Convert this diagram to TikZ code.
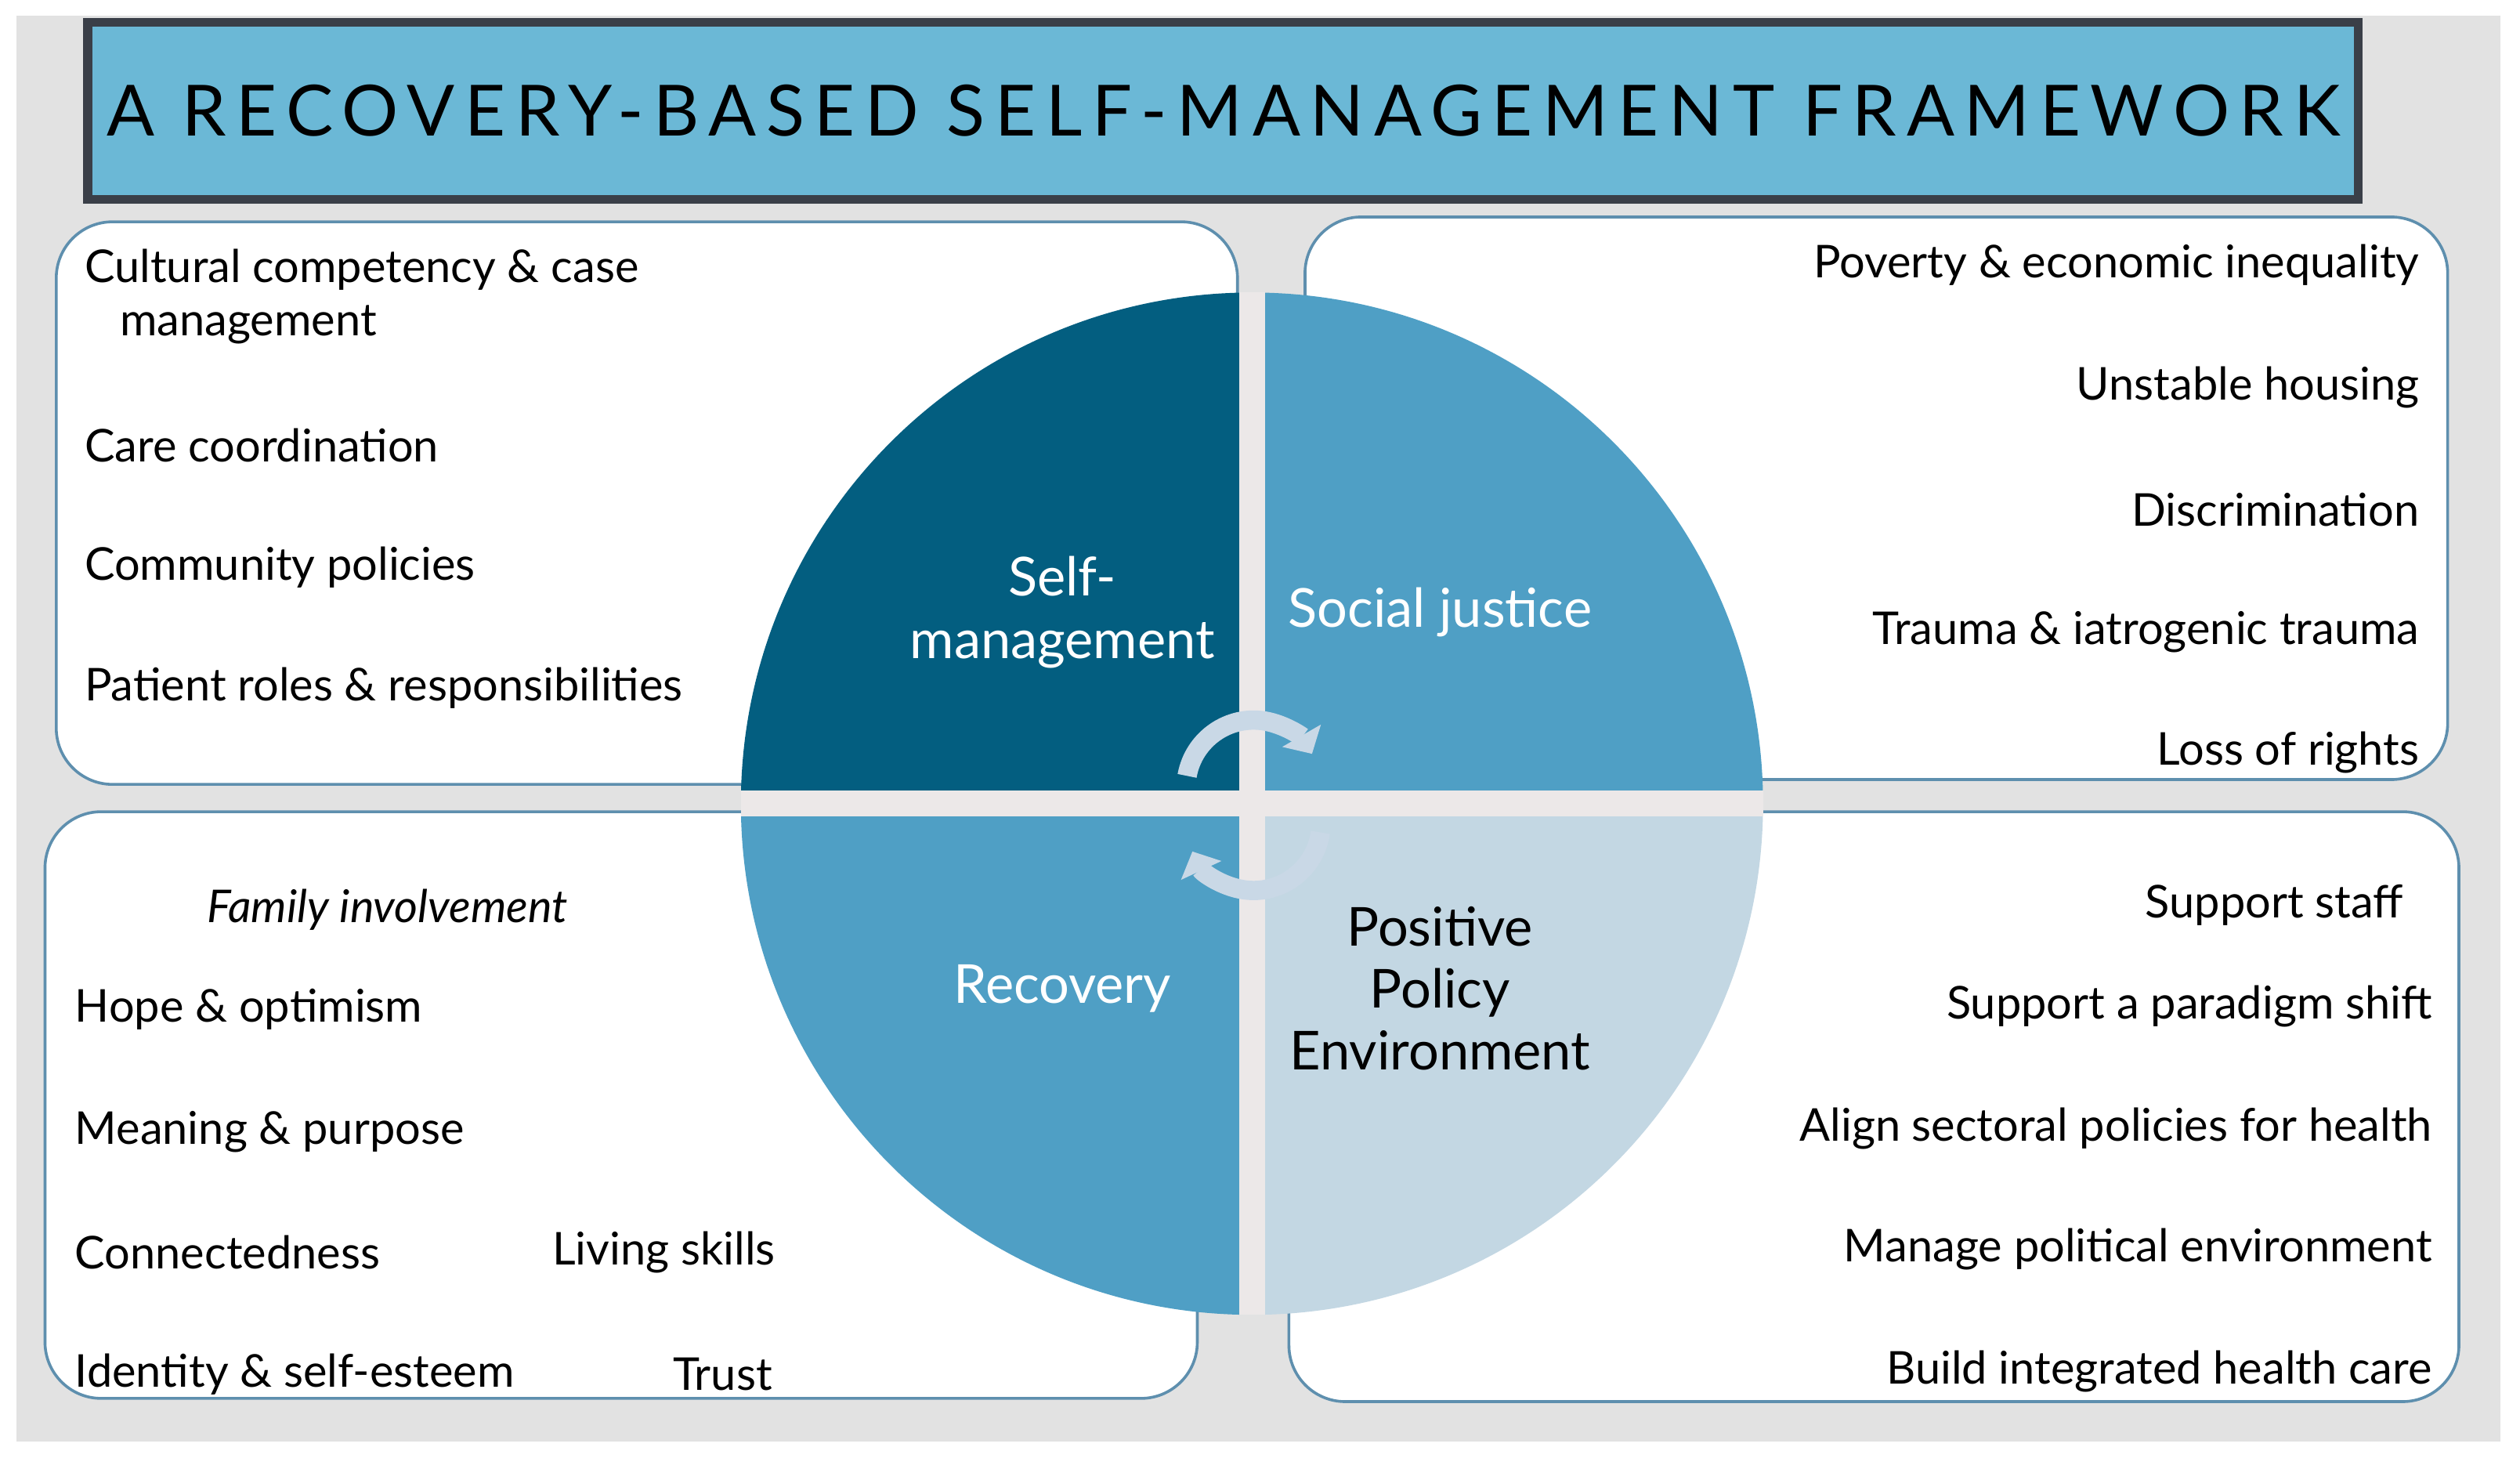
\documentclass[tikz,border=0pt]{standalone}
\usepackage{fontspec}
\setmainfont{Lato}
\usetikzlibrary{arrows.meta}
\definecolor{pagegray}{HTML}{E2E2E2}
\definecolor{gapgray}{HTML}{ECE8E8}
\definecolor{titleblue}{HTML}{6BB8D6}
\definecolor{framegray}{HTML}{3A3F48}
\definecolor{boxline}{HTML}{5E8FAE}
\definecolor{darkteal}{HTML}{035E80}
\definecolor{midblue}{HTML}{4F9FC5}
\definecolor{paleblue}{HTML}{C3D7E3}
\definecolor{cyclefill}{HTML}{C9D8E6}
\tikzstyle{panel} = [draw=boxline,line width=0.5pt,fill=white,rounded corners=0.35cm]
\tikzstyle{item} = [anchor=west,inner sep=0pt,font=\fontsize{8}{9.6}\selectfont]
\tikzstyle{ritem} = [item,anchor=east]
\tikzstyle{quad} = [align=center,font=\fontsize{9.5}{11}\selectfont,inner sep=0pt]
\tikzstyle{cycle} = [line width=0.12cm,draw=cyclefill,-{Triangle[width=0.27cm,length=0.13cm]}]

\begin{document}
\begin{tikzpicture}[x=0.01cm,y=-0.01cm]
		\useasboundingbox (0,0) rectangle (1568,907);
		\fill[white] (0,0) rectangle (1568,907);
		\fill[pagegray] (10,10) rectangle (1556,897);
		% title
		\node [draw=framegray,line width=1.6pt,fill=titleblue,minimum width=12.72cm,minimum height=1.1cm,font=\fontsize{12.5}{14}\selectfont\addfontfeature{LetterSpace=14}](title) at (761,69){A RECOVERY-BASED SELF-MANAGEMENT FRAMEWORK};
		% panels
		\draw [panel](35,138) rectangle (770,488);
		\draw [panel](812,135) rectangle (1523,485);
		\draw [panel](28,505) rectangle (745,870);
		\draw [panel](802,505) rectangle (1530,872);
		% circle
		\begin{scope}
		\clip (779,500) circle (318);
		\fill[darkteal] (400,150) rectangle (771,492);
		\fill[midblue] (787,150) rectangle (1160,492);
		\fill[midblue] (400,508) rectangle (771,850);
		\fill[paleblue] (787,508) rectangle (1160,850);
		\end{scope}
		\fill[gapgray] (771,182) rectangle (787,818);
		\fill[gapgray] (461,492) rectangle (1097,508);
		% cycle arrows
		\coordinate (up) at (780,490);
		\coordinate (dn) at (780,512);
		\draw [cycle](up) ++(190:42) arc (190:330:42);
		\draw [cycle](dn) ++(8:42) arc (8:155:42);
		% quadrant labels
		\node [quad,text=white](selfm) at (661,381){Self-\\management};
		\node [quad,text=white](socj) at (896,381){Social justice};
		\node [quad,text=white](recov) at (661,615){Recovery};
		\node [quad](ppe) at (896,615){Positive\\Policy\\Environment};
		% top left
		\node [item](tl1) at (52,168){Cultural competency \& case};
		\node [item](tl2) at (74,202){management};
		\node [item](tl3) at (52,277){Care coordination};
		\node [item](tl4) at (52,353){Community policies};
		\node [item](tl5) at (52,428){Patient roles \& responsibilities};
		% top right
		\node [ritem](tr1) at (1506,165){Poverty \& economic inequality};
		\node [ritem](tr2) at (1506,241){Unstable housing};
		\node [ritem](tr3) at (1506,317){Discrimination};
		\node [ritem](tr4) at (1506,393){Trauma \& iatrogenic trauma};
		\node [ritem](tr5) at (1506,468){Loss of rights};
		% bottom left
		\node [item,font=\fontsize{8}{9.6}\selectfont\itshape](bl1) at (128,566){Family involvement};
		\node [item](bl2) at (46,628){Hope \& optimism};
		\node [item](bl3) at (46,704){Meaning \& purpose};
		\node [item](bl4) at (46,779){Connectedness};
		\node [item](bl5) at (343,779){Living skills};
		\node [item](bl6) at (46,855){Identity \& self-esteem};
		\node [item](bl7) at (418,855){Trust};
		% bottom right
		\node [ritem](br1) at (1496,563){Support staff};
		\node [ritem](br2) at (1514,626){Support a paradigm shift};
		\node [ritem](br3) at (1514,702){Align sectoral policies for health};
		\node [ritem](br4) at (1514,777){Manage political environment};
		\node [ritem](br5) at (1514,853){Build integrated health care};
		\end{tikzpicture}
\end{document}
